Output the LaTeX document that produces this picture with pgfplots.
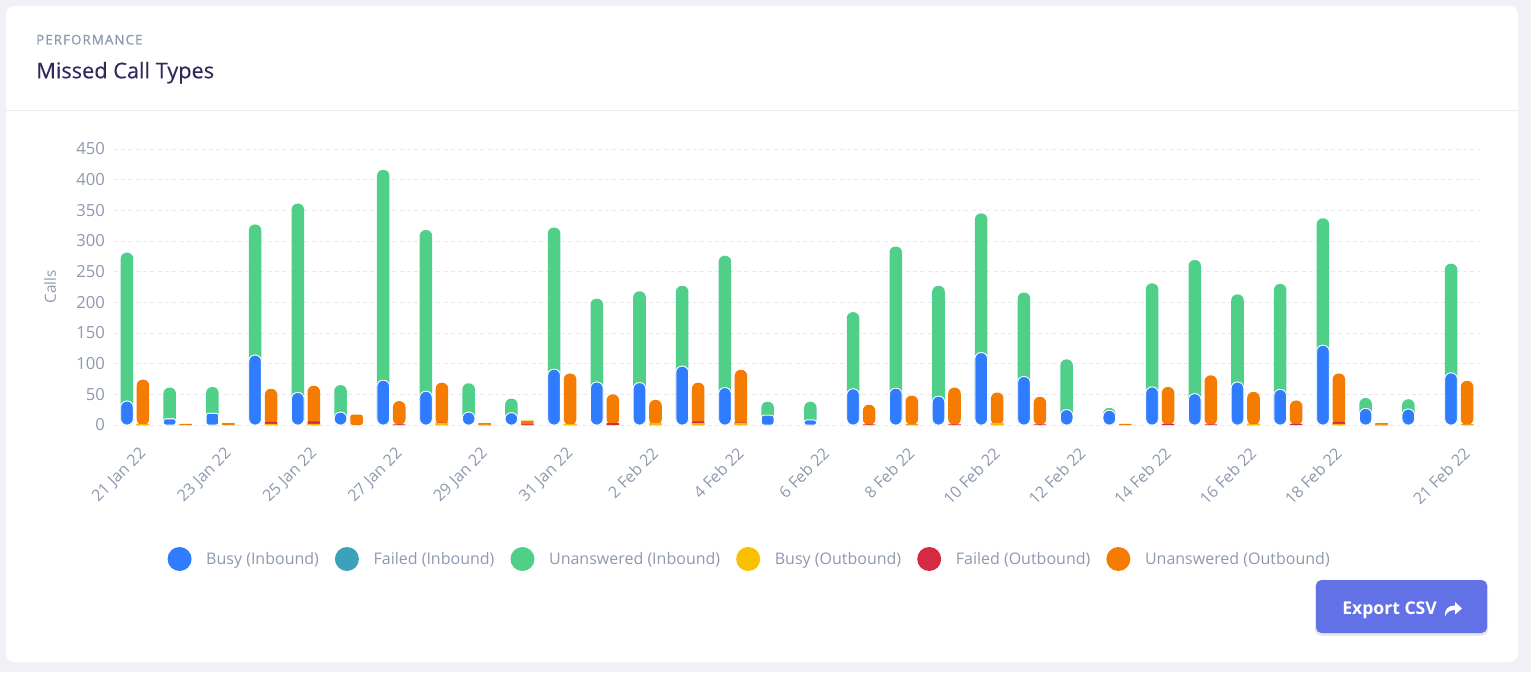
\documentclass[border=0pt]{standalone}
\usepackage{fontspec}
\setmainfont{Open Sans}
\usepackage{pgfplots}
\pgfplotsset{compat=1.18}
\usepackage{pgfplotstable}
\pgfdeclarelayer{bg}
\pgfsetlayers{bg,main}
\definecolor{bgc}{HTML}{EFF1F7}
\definecolor{sepc}{HTML}{ECEEF2}
\definecolor{gridc}{HTML}{E6E9EF}
\definecolor{txtc}{HTML}{8E99AF}
\definecolor{ttl}{HTML}{2E2B5C}
\definecolor{btn}{HTML}{6371E6}
\definecolor{cBI}{HTML}{307CFF}
\definecolor{cFI}{HTML}{3BA2BA}
\definecolor{cUI}{HTML}{50CF88}
\definecolor{cBO}{HTML}{FAC000}
\definecolor{cFO}{HTML}{D62A43}
\definecolor{cUO}{HTML}{F57C00}

% i = day index (0 = 21 Jan 22); bi/fi/ui = busy/failed/unanswered inbound; bo/fo/uo = outbound
\pgfplotstableread{
i bi fi ui bo fo uo
0 39 0 242 2 0 72
1 10 0 51 0 0 2
2 19 0 43 0 0 3
3 114 0 213 2 3 54
4 53 0 308 2 4 58
5 21 0 44 0 0 17
6 73 0 343 0 1 38
7 55 0 263 3 1 65
8 21 0 47 1 0 2
9 20 0 23 0 1 6
10 91 0 231 2 0 82
11 70 0 136 0 3 47
12 69 0 149 3 0 38
13 96 0 131 3 3 63
14 61 0 215 4 1 85
15 16 0 22 0 0 0
16 8 0 30 0 0 0
17 59 0 125 0 1 32
18 60 0 231 1 0 47
19 47 0 180 0 1 60
20 118 0 227 3 0 50
21 79 0 137 0 1 45
22 25 0 82 0 0 0
23 24 0 4 0 0 2
24 62 0 169 0 2 60
25 51 0 218 0 1 80
26 70 0 143 2 0 52
27 58 0 172 0 2 38
28 130 0 207 2 3 79
29 27 0 17 1 0 2
30 26 0 16 0 0 0
31 85 0 178 1 0 71
}\data

\newcommand\pill[2]{%
 \addplot[ybar,bar width=9.4pt,forget plot,#1,rounded corners=4.5pt,restrict y to domain=19.5:1000] table[x=i,y expr={#2}]{\data};
 \addplot[ybar,bar width=9.4pt,forget plot,#1,rounded corners=1.8pt,restrict y to domain=7.5:19.5] table[x=i,y expr={#2}]{\data};
 \addplot[ybar,bar width=9.4pt,forget plot,#1,sharp corners,restrict y to domain=0.5:7.5] table[x=i,y expr={#2}]{\data};
}
\pgfplotsset{legcirc/.style={draw=none,legend image code/.code={%
  \pgfpathcircle{\pgfpoint{9pt}{0pt}}{9pt}\pgfusepath{fill}%
  \pgfpathrectanglecorners{\pgfpoint{0pt}{-9pt}}{\pgfpoint{27pt}{9pt}}\pgfusepath{use as bounding box}}}}

\begin{document}
\begin{tikzpicture}[x=0.75pt,y=0.75pt]
\begin{axis}[
 scale only axis, width=1025.1pt, height=207pt,
 xmin=-0.5, xmax=31.5, ymin=0, ymax=450,
 axis line style={draw=none}, major tick style={draw=none},
 ytick={0,50,100,150,200,250,300,350,400,450},
 ymajorgrids, grid style={gridc, dash pattern=on 3pt off 2.5pt, line width=0.6pt},
 xtick={0,2,4,6,8,10,12,14,16,18,20,22,24,26,28,31},
 xticklabels={21 Jan 22,23 Jan 22,25 Jan 22,27 Jan 22,29 Jan 22,31 Jan 22,2 Feb 22,4 Feb 22,6 Feb 22,8 Feb 22,10 Feb 22,12 Feb 22,14 Feb 22,16 Feb 22,18 Feb 22,21 Feb 22},
 xticklabel style={xshift=2.5pt, yshift=-11pt, rotate=45, anchor=north east, font={\fontsize{12}{14}\selectfont}, text=txtc},
 yticklabel style={xshift=-3pt, font={\fontsize{12.5}{14}\selectfont}, text=txtc},
 /pgf/number format/assume math mode=true,
 ylabel={Calls}, ylabel style={at={(axis description cs:-0.0465,0.5)}, anchor=center, font={\fontsize{11.5}{14}\selectfont}, text=txtc},
 legend columns=6,
 legend style={at={(axis description cs:0.4656,-0.4855)}, anchor=center, draw=none, fill=none,
   font={\fontsize{12}{14}\selectfont\color{txtc}}, inner sep=0pt,
   /tikz/every even column/.append style={column sep=10pt}},
 legend cell align=left,
 clip=false,
]
% inbound (left bar of each day)
\pill{fill=cUI,draw=none,bar shift=-6pt}{\thisrow{bi}+\thisrow{fi}+\thisrow{ui}}
\pill{fill=cFI,draw=white,line width=0.6pt,bar shift=-6pt}{\thisrow{bi}+\thisrow{fi}}
\pill{fill=cBI,draw=white,line width=0.6pt,bar shift=-6pt}{\thisrow{bi}}
% outbound (right bar of each day)
\pill{fill=cUO,draw=none,bar shift=6pt}{\thisrow{bo}+\thisrow{fo}+\thisrow{uo}}
\pill{fill=cFO,draw=none,bar shift=6pt}{\thisrow{bo}+\thisrow{fo}}
\pill{fill=cBO,draw=none,bar shift=6pt}{\thisrow{bo}}

\addlegendimage{legcirc, fill=cBI}\addlegendentry{Busy (Inbound)}
\addlegendimage{legcirc, fill=cFI}\addlegendentry{Failed (Inbound)}
\addlegendimage{legcirc, fill=cUI}\addlegendentry{Unanswered (Inbound)}
\addlegendimage{legcirc, fill=cBO}\addlegendentry{Busy (Outbound)}
\addlegendimage{legcirc, fill=cFO}\addlegendentry{Failed (Outbound)}
\addlegendimage{legcirc, fill=cUO}\addlegendentry{Unanswered (Outbound)}
\coordinate (O) at (axis cs:-0.5,0);
\end{axis}

\begin{scope}[shift={(O)}]
\begin{scope}[shift={(-113.6,-247)}]
\begin{pgfonlayer}{bg}
\fill[bgc] (0,0) rectangle (1531,672);
\fill[white, rounded corners=6pt] (6,10) rectangle (1518,666);
\draw[sepc, line width=0.75pt] (6,561) -- (1518,561);
\end{pgfonlayer}
\node[anchor=base west, inner sep=0pt, text=txtc, font={\fontsize{10}{12}\selectfont\addfontfeature{LetterSpace=8,FakeBold=0.8}}] at (36,627.5) {PERFORMANCE};
\node[anchor=base west, inner sep=0pt, text=ttl, font={\fontsize{16.3}{19}\selectfont\addfontfeature{FakeBold=0.3}}] at (36,593.7) {Missed Call Types};
\fill[black, opacity=0.10, rounded corners=4pt] (1315,36.5) rectangle (1488,91);
\fill[btn, rounded corners=4pt] (1316,39) rectangle (1487,92);
\node[anchor=base west, inner sep=0pt, text=white, font={\fontsize{13.2}{15}\selectfont\bfseries}] at (1342,58) {Export CSV};
\fill[white, shift={(1444,55)}] (18,8.5) -- (11,15) -- (11,11.5) .. controls (4,11.5) and (0.5,8) .. (1,0.5) .. controls (2.5,5) and (6,7) .. (11,7) -- (11,2.5) -- cycle;
\end{scope}
\end{scope}
\end{tikzpicture}
\end{document}
